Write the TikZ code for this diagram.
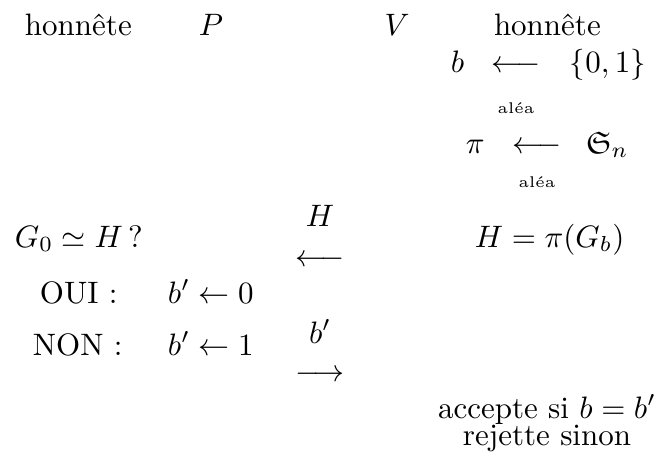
\documentclass[tikz,border=0pt]{standalone}
\usepackage{amsmath,amssymb}
\begin{document}
\begin{tikzpicture}[x=0.3226pt,y=-0.3226pt,
  txt/.style={inner sep=0pt,outer sep=0pt},
  small/.style={inner sep=0pt,font=\tiny}]
\useasboundingbox (0,0) rectangle (657,463);
% headers
\node[txt,anchor=base west] (hp) at (25,35) {honnête};
\node[txt,anchor=base] (P) at (211,35) {$P$};
\node[txt,anchor=base] (V) at (397,35) {$V$};
\node[txt,anchor=base west] (hv) at (494,35) {honnête};
% b <- {0,1}
\node[txt,anchor=base west] (b) at (451,72) {$b$};
\node[txt,anchor=base] (a1) at (516,72) {$\longleftarrow$};
\node[txt,anchor=base west] (set) at (570,72) {$\{0,1\}$};
\node[small,anchor=base] (al1) at (516,113) {aléa};
% pi <- S_n
\node[txt,anchor=base west] (pi) at (466,153) {$\pi$};
\node[txt,anchor=base] (a2) at (537,153) {$\longleftarrow$};
\node[txt,anchor=base west] (Sn) at (586,153) {$\mathfrak{S}_n$};
\node[small,anchor=base] (al2) at (537,187) {aléa};
% G0 ~ H ?
\node[txt,anchor=base west] (q) at (15,247) {$G_0\simeq H\,?$};
\node[txt,anchor=base] (Hl) at (320,226) {$H$};
\node[txt,anchor=base] (a3) at (320,266) {$\longleftarrow$};
\node[txt,anchor=base west] (Hd) at (475,247) {$H=\pi(G_b)$};
% OUI / NON
\node[txt,anchor=base west] (oui) at (40,303) {OUI :};
\node[txt,anchor=base west] (b0) at (168,303) {$b'\leftarrow 0$};
\node[txt,anchor=base west] (non) at (33,355) {NON :};
\node[txt,anchor=base west] (b1) at (168,355) {$b'\leftarrow 1$};
\node[txt,anchor=base] (bl) at (320,343) {$b'$};
\node[txt,anchor=base] (a4) at (320,381) {$\longrightarrow$};
% verdict
\node[txt,anchor=base] (acc) at (547,418) {accepte si $b=b'$};
\node[txt,anchor=base] (rej) at (547,445) {rejette sinon};
\end{tikzpicture}
\end{document}
